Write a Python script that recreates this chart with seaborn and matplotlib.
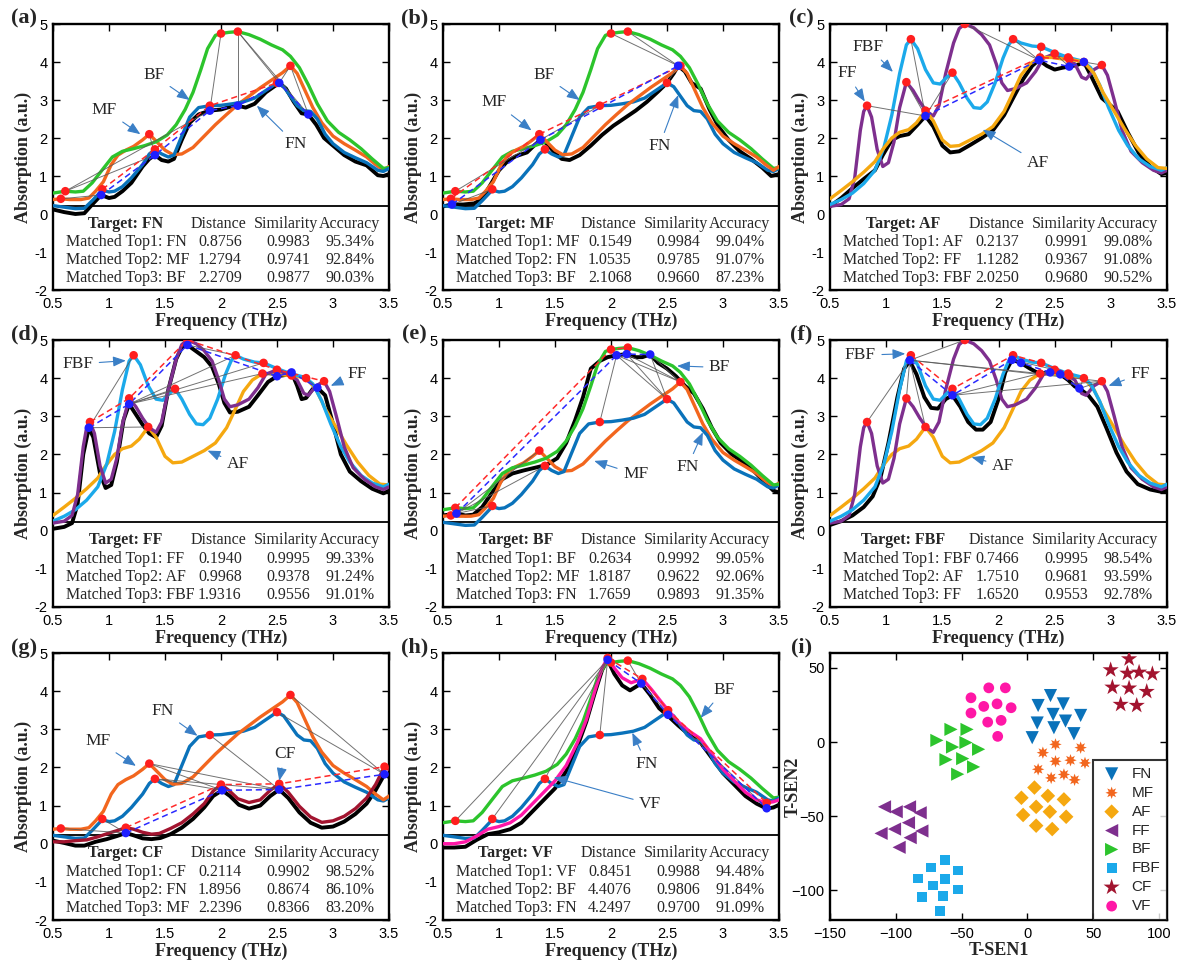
import numpy as np
import pandas as pd
import matplotlib
matplotlib.use("Agg")
import matplotlib.pyplot as plt
import seaborn as sns
from matplotlib.patches import Rectangle
from matplotlib.ticker import FormatStrFormatter

SERIF = "Liberation Serif"
SANS = "Liberation Sans"

# --- reference spectra: frequency (THz) / absorption (a.u.) / picked peaks ---
FN_F = [0.50, 0.60, 0.70, 0.78, 0.85, 0.94, 1.00, 1.05, 1.12, 1.20, 1.30, 1.36, 1.41, 1.47, 1.53, 1.58,
        1.65, 1.72, 1.80, 1.90, 2.00, 2.10, 2.20, 2.30, 2.40, 2.50, 2.56, 2.62, 2.68, 2.74, 2.80, 2.86,
        2.93, 3.00, 3.10, 3.20, 3.30, 3.40, 3.45, 3.50]
FN_A = [0.22, 0.18, 0.14, 0.15, 0.35, 0.63, 0.58, 0.60, 0.72, 0.95, 1.30, 1.58, 1.70, 1.58, 1.50, 1.55,
        2.05, 2.55, 2.80, 2.85, 2.86, 2.90, 2.95, 3.05, 3.25, 3.45, 3.35, 3.10, 2.85, 2.72, 2.70, 2.50,
        2.10, 1.85, 1.62, 1.48, 1.35, 1.15, 1.12, 1.20]
FN_PK = [(0.94, 0.65), (1.41, 1.70), (1.90, 2.85), (2.50, 3.45)]

MF_F = [0.50, 0.57, 0.65, 0.75, 0.82, 0.88, 0.95, 1.02, 1.08, 1.15, 1.22, 1.30, 1.36, 1.42, 1.50, 1.57,
        1.65, 1.75, 1.85, 1.95, 2.05, 2.15, 2.25, 2.35, 2.45, 2.55, 2.62, 2.68, 2.75, 2.82, 2.90, 3.00,
        3.10, 3.20, 3.30, 3.38, 3.45, 3.50]
MF_A = [0.38, 0.40, 0.38, 0.38, 0.42, 0.60, 0.85, 1.30, 1.55, 1.68, 1.78, 1.95, 2.10, 1.92, 1.68, 1.56,
        1.58, 1.75, 2.05, 2.35, 2.62, 2.88, 3.10, 3.32, 3.52, 3.72, 3.90, 3.70, 3.25, 2.80, 2.40, 2.05,
        1.85, 1.68, 1.50, 1.30, 1.15, 1.25]
MF_PK = [(0.57, 0.40), (1.36, 2.10), (2.62, 3.90)]

BF_F = [0.50, 0.61, 0.70, 0.77, 0.85, 0.95, 1.03, 1.12, 1.22, 1.32, 1.42, 1.52, 1.60, 1.68, 1.75, 1.82,
        1.88, 1.95, 2.00, 2.07, 2.15, 2.25, 2.35, 2.45, 2.55, 2.62, 2.70, 2.78, 2.86, 2.95, 3.05, 3.15,
        3.25, 3.35, 3.45, 3.50]
BF_A = [0.55, 0.60, 0.58, 0.60, 0.82, 1.20, 1.50, 1.65, 1.72, 1.80, 1.90, 2.08, 2.35, 2.75, 3.20, 3.80,
        4.35, 4.70, 4.75, 4.78, 4.80, 4.72, 4.60, 4.45, 4.32, 4.15, 3.85, 3.40, 2.90, 2.45, 2.15, 1.95,
        1.72, 1.45, 1.20, 1.22]
BF_PK = [(0.61, 0.60), (2.00, 4.75), (2.15, 4.80)]

AF_F = [0.50, 0.60, 0.70, 0.80, 0.90, 0.97, 1.05, 1.12, 1.20, 1.27, 1.35, 1.42, 1.50, 1.57, 1.65, 1.75,
        1.85, 1.95, 2.05, 2.13, 2.20, 2.28, 2.37, 2.47, 2.57, 2.67, 2.76, 2.85, 2.93, 3.02, 3.12, 3.22,
        3.32, 3.42, 3.50]
AF_A = [0.40, 0.62, 0.85, 1.10, 1.38, 1.70, 2.00, 2.15, 2.22, 2.40, 2.72, 2.45, 1.95, 1.78, 1.80, 1.95,
        2.10, 2.30, 2.70, 3.20, 3.65, 3.95, 4.12, 4.12, 4.08, 4.05, 4.00, 3.70, 3.20, 2.75, 2.25, 1.80,
        1.45, 1.22, 1.20]
AF_PK = [(1.35, 2.72), (2.37, 4.12), (2.63, 4.07), (2.76, 4.00)]

FF_F = [0.50, 0.60, 0.67, 0.72, 0.77, 0.80, 0.83, 0.87, 0.92, 0.97, 1.02, 1.07, 1.12, 1.18, 1.24, 1.30,
        1.36, 1.42, 1.47, 1.53, 1.60, 1.65, 1.70, 1.78, 1.85, 1.92, 1.98, 2.03, 2.08, 2.15, 2.25, 2.33,
        2.40, 2.50, 2.60, 2.68, 2.74, 2.78, 2.85, 2.92, 2.97, 3.03, 3.10, 3.18, 3.28, 3.38, 3.45, 3.50]
FF_A = [0.20, 0.25, 0.40, 0.95, 2.20, 2.70, 2.85, 2.55, 1.70, 1.25, 1.35, 1.90, 2.80, 3.47, 3.25, 2.95,
        2.70, 2.58, 2.85, 3.70, 4.50, 4.88, 5.00, 4.90, 4.72, 4.45, 3.95, 3.45, 3.25, 3.30, 3.45, 3.75,
        4.10, 4.22, 4.10, 3.95, 3.60, 3.55, 3.80, 3.92, 3.65, 3.00, 2.20, 1.65, 1.35, 1.15, 1.08, 1.15]
FF_PK = [(0.83, 2.85), (1.18, 3.47), (1.70, 5.00), (2.50, 4.22), (2.92, 3.92)]

FBF_F = [0.50, 0.60, 0.70, 0.80, 0.90, 0.98, 1.05, 1.12, 1.18, 1.22, 1.28, 1.35, 1.42, 1.48, 1.54, 1.59,
         1.65, 1.72, 1.78, 1.84, 1.90, 1.97, 2.04, 2.09, 2.13, 2.20, 2.30, 2.38, 2.50, 2.62, 2.75, 2.82,
         2.90, 2.98, 3.07, 3.15, 3.25, 3.35, 3.45, 3.50]
FBF_A = [0.25, 0.38, 0.55, 0.80, 1.15, 1.75, 2.60, 3.70, 4.45, 4.60, 4.35, 3.80, 3.45, 3.42, 3.60, 3.72,
         3.45, 3.05, 2.80, 2.78, 2.95, 3.45, 4.10, 4.45, 4.60, 4.50, 4.42, 4.40, 4.25, 4.12, 4.02, 3.85,
         3.40, 2.80, 2.20, 1.80, 1.45, 1.25, 1.15, 1.22]
FBF_PK = [(1.22, 4.60), (1.59, 3.72), (2.13, 4.60), (2.38, 4.40), (2.62, 4.12)]

CF_F = [0.50, 0.60, 0.70, 0.80, 0.90, 1.00, 1.08, 1.15, 1.22, 1.30, 1.38, 1.45, 1.55, 1.65, 1.75, 1.85,
        1.93, 2.00, 2.07, 2.15, 2.25, 2.35, 2.44, 2.52, 2.60, 2.70, 2.80, 2.90, 3.00, 3.10, 3.20, 3.30,
        3.38, 3.46, 3.50]
CF_A = [0.05, 0.05, 0.08, 0.10, 0.18, 0.28, 0.35, 0.42, 0.38, 0.30, 0.25, 0.27, 0.40, 0.55, 0.78, 1.05,
        1.38, 1.55, 1.40, 1.18, 1.08, 1.15, 1.40, 1.57, 1.35, 0.98, 0.70, 0.56, 0.60, 0.72, 0.92, 1.20,
        1.55, 2.02, 1.95]
CF_PK = [(1.15, 0.42), (2.00, 1.55), (2.52, 1.57), (3.46, 2.02)]

VF_F = [0.50, 0.60, 0.70, 0.80, 0.90, 1.00, 1.10, 1.20, 1.30, 1.40, 1.50, 1.60, 1.70, 1.78, 1.85, 1.92,
        1.97, 2.03, 2.10, 2.18, 2.28, 2.36, 2.44, 2.51, 2.60, 2.70, 2.80, 2.90, 3.00, 3.10, 3.20, 3.30,
        3.39, 3.45, 3.50]
VF_A = [0.00, 0.00, 0.05, 0.20, 0.38, 0.45, 0.55, 0.75, 1.05, 1.35, 1.65, 2.05, 2.65, 3.25, 3.95, 4.60,
        4.87, 4.60, 4.35, 4.22, 4.32, 4.05, 3.75, 3.50, 3.20, 2.95, 2.75, 2.35, 1.95, 1.65, 1.35, 1.15,
        1.07, 1.10, 1.15]
VF_PK = [(1.97, 4.87), (2.28, 4.32), (2.51, 3.50), (3.39, 1.07)]

# --- measured (target) spectra, black curves ---
T_FN_F = [0.50, 0.60, 0.70, 0.78, 0.85, 0.93, 1.00, 1.05, 1.12, 1.20, 1.30, 1.36, 1.41, 1.47, 1.53, 1.58,
          1.65, 1.72, 1.80, 1.90, 2.00, 2.08, 2.15, 2.22, 2.30, 2.40, 2.52, 2.58, 2.65, 2.72, 2.78, 2.85,
          2.92, 3.00, 3.10, 3.20, 3.30, 3.40, 3.45, 3.50]
T_FN_A = [0.12, 0.05, 0.00, 0.02, 0.25, 0.50, 0.42, 0.45, 0.60, 0.82, 1.25, 1.45, 1.55, 1.42, 1.38, 1.45,
          1.95, 2.40, 2.62, 2.72, 2.75, 2.82, 2.85, 2.80, 2.90, 3.20, 3.45, 3.30, 2.95, 2.65, 2.62, 2.35,
          2.00, 1.80, 1.55, 1.38, 1.28, 1.02, 1.00, 1.05]
T_FN_PK = [(0.93, 0.50), (1.41, 1.55), (1.90, 2.72), (2.15, 2.85), (2.52, 3.45), (2.78, 2.62)]

T_MF_F = [0.50, 0.58, 0.68, 0.78, 0.85, 0.92, 1.00, 1.08, 1.15, 1.25, 1.32, 1.37, 1.43, 1.50, 1.56, 1.63,
          1.72, 1.82, 1.92, 2.02, 2.12, 2.22, 2.32, 2.42, 2.50, 2.56, 2.60, 2.66, 2.72, 2.80, 2.88, 2.96,
          3.05, 3.15, 3.25, 3.35, 3.43, 3.50]
T_MF_A = [0.20, 0.25, 0.25, 0.28, 0.40, 0.75, 1.15, 1.40, 1.52, 1.62, 1.82, 1.95, 1.85, 1.60, 1.45, 1.42,
          1.55, 1.80, 2.08, 2.32, 2.52, 2.72, 2.95, 3.22, 3.45, 3.70, 3.90, 3.75, 3.45, 3.30, 2.75, 2.30,
          1.95, 1.65, 1.45, 1.22, 1.00, 1.05]
T_MF_PK = [(0.58, 0.25), (1.37, 1.95), (2.60, 3.90)]

T_AF_F = [0.50, 0.60, 0.70, 0.80, 0.90, 0.97, 1.05, 1.12, 1.20, 1.28, 1.35, 1.42, 1.50, 1.57, 1.65, 1.75,
          1.85, 1.95, 2.05, 2.13, 2.22, 2.30, 2.36, 2.43, 2.50, 2.57, 2.63, 2.70, 2.76, 2.83, 2.92, 3.00,
          3.06, 3.15, 3.25, 3.35, 3.45, 3.50]
T_AF_A = [0.20, 0.42, 0.68, 0.92, 1.15, 1.55, 1.95, 2.05, 2.10, 2.35, 2.58, 2.30, 1.80, 1.62, 1.65, 1.82,
          2.00, 2.20, 2.60, 3.05, 3.55, 3.90, 4.05, 3.90, 3.80, 3.85, 3.88, 3.92, 4.00, 3.60, 3.05, 2.85,
          2.70, 2.15, 1.60, 1.25, 1.05, 1.08]
T_AF_PK = [(1.35, 2.58), (2.36, 4.05), (2.63, 3.88), (2.76, 4.00)]

T_FF_F = [0.50, 0.60, 0.67, 0.72, 0.77, 0.82, 0.86, 0.92, 0.97, 1.02, 1.07, 1.13, 1.18, 1.24, 1.30, 1.36,
          1.42, 1.47, 1.53, 1.60, 1.65, 1.70, 1.78, 1.85, 1.92, 1.98, 2.03, 2.08, 2.15, 2.25, 2.33, 2.42,
          2.50, 2.57, 2.63, 2.68, 2.72, 2.76, 2.82, 2.86, 2.93, 3.00, 3.07, 3.15, 3.25, 3.35, 3.45, 3.50]
T_FF_A = [0.05, 0.10, 0.20, 0.70, 2.00, 2.70, 2.45, 1.50, 1.12, 1.20, 1.80, 2.90, 3.32, 3.05, 2.78, 2.55,
          2.45, 2.75, 3.70, 4.50, 4.80, 4.87, 4.70, 4.55, 4.30, 3.85, 3.35, 3.10, 3.12, 3.25, 3.55, 3.90,
          4.05, 4.08, 4.15, 3.80, 3.45, 3.48, 3.72, 3.75, 3.55, 2.80, 2.00, 1.55, 1.30, 1.10, 0.98, 1.05]
T_FF_PK = [(0.82, 2.70), (1.18, 3.32), (1.70, 4.87), (2.50, 4.05), (2.63, 4.15), (2.86, 3.75)]

T_BF_F = [0.50, 0.62, 0.70, 0.77, 0.85, 0.95, 1.03, 1.12, 1.22, 1.32, 1.42, 1.52, 1.60, 1.68, 1.75, 1.82,
          1.90, 1.97, 2.05, 2.14, 2.22, 2.28, 2.35, 2.42, 2.50, 2.58, 2.66, 2.74, 2.82, 2.90, 2.98, 3.08,
          3.18, 3.28, 3.38, 3.45, 3.50]
T_BF_A = [0.40, 0.45, 0.40, 0.42, 0.62, 1.05, 1.35, 1.50, 1.58, 1.65, 1.72, 1.90, 2.30, 2.90, 3.50, 4.25,
          4.45, 4.55, 4.60, 4.63, 4.55, 4.55, 4.62, 4.40, 4.25, 4.05, 3.80, 3.60, 3.20, 2.70, 2.30, 2.00,
          1.80, 1.55, 1.25, 1.05, 1.00]
T_BF_PK = [(0.62, 0.45), (2.05, 4.60), (2.14, 4.63), (2.35, 4.62)]

T_FBF_F = [0.50, 0.60, 0.70, 0.80, 0.88, 0.95, 1.02, 1.10, 1.16, 1.21, 1.27, 1.34, 1.40, 1.46, 1.53, 1.59,
           1.66, 1.73, 1.80, 1.86, 1.93, 2.00, 2.06, 2.12, 2.20, 2.28, 2.36, 2.46, 2.55, 2.62, 2.68, 2.72,
           2.80, 2.88, 2.96, 3.05, 3.14, 3.24, 3.35, 3.45, 3.50]
T_FBF_A = [0.15, 0.25, 0.40, 0.62, 0.90, 1.40, 2.30, 3.50, 4.25, 4.45, 4.10, 3.50, 3.22, 3.20, 3.45, 3.55,
           3.25, 2.85, 2.65, 2.65, 2.85, 3.45, 4.15, 4.48, 4.40, 4.25, 4.12, 4.15, 4.10, 3.95, 3.78, 3.73,
           3.55, 3.25, 2.70, 2.05, 1.55, 1.22, 1.08, 1.02, 1.05]
T_FBF_PK = [(1.21, 4.47), (1.59, 3.55), (2.12, 4.48), (2.20, 4.40), (2.46, 4.15), (2.55, 4.10), (2.72, 3.73)]

T_CF_F = [0.50, 0.60, 0.70, 0.78, 0.88, 0.98, 1.07, 1.15, 1.22, 1.30, 1.38, 1.46, 1.55, 1.65, 1.75, 1.85,
          1.93, 2.01, 2.08, 2.16, 2.25, 2.35, 2.44, 2.52, 2.60, 2.70, 2.80, 2.90, 3.00, 3.10, 3.20, 3.30,
          3.38, 3.46, 3.50]
T_CF_A = [0.08, 0.02, -0.05, -0.05, 0.05, 0.12, 0.20, 0.28, 0.22, 0.14, 0.12, 0.15, 0.25, 0.42, 0.65, 0.95,
          1.25, 1.40, 1.25, 1.02, 0.92, 1.00, 1.25, 1.42, 1.20, 0.82, 0.55, 0.42, 0.45, 0.58, 0.78, 1.05,
          1.40, 1.82, 1.75]
T_CF_PK = [(1.15, 0.28), (2.01, 1.40), (2.52, 1.42), (3.46, 1.82)]

T_VF_F = [0.50, 0.60, 0.70, 0.80, 0.90, 1.00, 1.10, 1.20, 1.30, 1.40, 1.50, 1.60, 1.70, 1.78, 1.85, 1.92,
          1.97, 2.03, 2.10, 2.17, 2.27, 2.35, 2.43, 2.51, 2.60, 2.70, 2.80, 2.90, 3.00, 3.10, 3.20, 3.30,
          3.39, 3.45, 3.50]
T_VF_A = [-0.10, -0.10, -0.08, 0.10, 0.25, 0.30, 0.38, 0.55, 0.85, 1.15, 1.45, 1.90, 2.55, 3.20, 3.90, 4.55,
          4.82, 4.45, 4.15, 4.02, 4.20, 3.90, 3.55, 3.35, 3.10, 2.85, 2.65, 2.25, 1.85, 1.55, 1.25, 1.05,
          0.92, 0.95, 1.02]
T_VF_PK = [(1.97, 4.82), (2.27, 4.20), (2.51, 3.38), (3.39, 0.93)]

# --- matching tables ---
TAB_A = [("FN", "0.8756", "0.9983", "95.34%"), ("MF", "1.2794", "0.9741", "92.84%"), ("BF", "2.2709", "0.9877", "90.03%")]
TAB_B = [("MF", "0.1549", "0.9984", "99.04%"), ("FN", "1.0535", "0.9785", "91.07%"), ("BF", "2.1068", "0.9660", "87.23%")]
TAB_C = [("AF", "0.2137", "0.9991", "99.08%"), ("FF", "1.1282", "0.9367", "91.08%"), ("FBF", "2.0250", "0.9680", "90.52%")]
TAB_D = [("FF", "0.1940", "0.9995", "99.33%"), ("AF", "0.9968", "0.9378", "91.24%"), ("FBF", "1.9316", "0.9556", "91.01%")]
TAB_E = [("BF", "0.2634", "0.9992", "99.05%"), ("MF", "1.8187", "0.9622", "92.06%"), ("FN", "1.7659", "0.9893", "91.35%")]
TAB_F = [("FBF", "0.7466", "0.9995", "98.54%"), ("AF", "1.7510", "0.9681", "93.59%"), ("FF", "1.6520", "0.9553", "92.78%")]
TAB_G = [("CF", "0.2114", "0.9902", "98.52%"), ("FN", "1.8956", "0.8674", "86.10%"), ("MF", "2.2396", "0.8366", "83.20%")]
TAB_H = [("VF", "0.8451", "0.9988", "94.48%"), ("BF", "4.4076", "0.9806", "91.84%"), ("FN", "4.2497", "0.9700", "91.09%")]

# peak matching: (target peak index, reference class, reference peak index)
LINKS_A = [(0, "MF", 0), (0, "FN", 0), (1, "BF", 0), (2, "BF", 0), (1, "MF", 1), (2, "BF", 1), (3, "BF", 2),
           (4, "BF", 2), (4, "MF", 2), (5, "MF", 2), (5, "BF", 2)]
LINKS_B = [(0, "BF", 0), (0, "FN", 0), (1, "BF", 0), (1, "FN", 1), (1, "FN", 2), (2, "BF", 1), (2, "BF", 2),
           (2, "FN", 3)]
LINKS_C = [(0, "FF", 0), (0, "FF", 1), (0, "FBF", 0), (0, "FBF", 1), (1, "FF", 2), (1, "FBF", 2),
           (1, "FBF", 3), (2, "FBF", 4), (2, "FF", 3), (3, "FF", 4)]
LINKS_D = [(0, "FBF", 0), (0, "AF", 0), (1, "FBF", 1), (1, "FBF", 2), (1, "FBF", 3), (1, "AF", 1),
           (2, "FBF", 2), (3, "AF", 1), (4, "FBF", 4), (5, "AF", 3)]
LINKS_E = [(0, "MF", 0), (0, "FN", 0), (0, "MF", 1), (0, "FN", 1), (1, "FN", 2), (1, "FN", 3), (1, "MF", 2),
           (2, "FN", 3), (2, "MF", 2), (3, "FN", 3), (3, "MF", 2)]
LINKS_F = [(0, "FF", 0), (0, "FF", 1), (0, "AF", 0), (0, "FF", 2), (0, "AF", 1), (0, "FF", 4),
           (1, "FF", 3), (1, "FF", 4), (2, "FF", 3), (4, "AF", 1), (6, "FF", 4), (6, "AF", 3)]
LINKS_G = [(0, "MF", 0), (0, "FN", 0), (1, "MF", 1), (1, "FN", 1), (2, "MF", 1), (2, "FN", 1),
           (2, "FN", 2), (3, "FN", 3), (3, "MF", 2)]
LINKS_H = [(0, "BF", 0), (0, "FN", 0), (0, "FN", 1), (0, "FN", 2), (0, "BF", 1), (1, "BF", 2),
           (1, "FN", 3), (3, "FN", 3)]

# --- t-SNE embedding ---
TSNE_CLASSES = ["FN", "MF", "AF", "FF", "BF", "FBF", "CF", "VF"]
TS_FN_X = [17.5, 27.2, 8.1, 19.5, 40.4, 7.4, 28.9, 20.1, 35.3, 3.6]
TS_FN_Y = [31.3, 25.7, 24.6, 18.6, 17.9, 12.8, 14.1, 9.6, 5.6, 2.9]
TS_MF_X = [21.3, 11.7, 40.4, 21.3, 32.7, 43.7, 8.1, 27.7, 18.0, 35.8]
TS_MF_Y = [-1.6, -7.2, -3.8, -13.0, -12.3, -14.1, -18.4, -21.9, -24.2, -25.5]
TS_AF_X = [5.3, -4.6, 15.5, 27.7, 6.6, -3.3, 17.0, 29.4, 6.6, 18.8]
TS_AF_Y = [-30.7, -37.6, -36.3, -38.7, -43.7, -49.2, -47.0, -50.4, -56.4, -58.7]
TS_FF_X = [-108.6, -99.7, -89.6, -81.5, -90.4, -101.0, -111.2, -80.2, -89.1, -97.5]
TS_FF_Y = [-43.7, -47.0, -43.7, -47.7, -54.4, -58.7, -61.6, -60.0, -64.5, -71.0]
TS_BF_X = [-68.8, -58.1, -45.9, -56.9, -46.7, -37.1, -61.9, -49.2, -40.9, -53.0]
TS_BF_Y = [1.1, 8.5, 8.5, -3.4, -0.4, -4.9, -11.9, -11.2, -16.8, -21.7]
TS_FBF_X = [-62.9, -73.4, -53.0, -83.2, -62.9, -71.8, -53.0, -80.2, -64.2, -66.2]
TS_FBF_Y = [-79.5, -84.6, -86.6, -92.0, -92.5, -96.7, -99.4, -104.5, -103.6, -113.7]
TS_CF_X = [77.2, 63.2, 75.9, 84.8, 94.9, 64.5, 77.2, 90.6, 70.8, 83.0]
TS_CF_Y = [56.0, 48.6, 46.3, 47.0, 45.9, 36.9, 36.3, 34.0, 25.3, 24.6]
TS_VF_X = [-29.4, -16.8, -42.9, -33.2, -23.1, -12.4, -42.9, -30.2, -20.0, -22.6]
TS_VF_Y = [36.5, 36.5, 29.8, 24.0, 25.7, 23.1, 19.5, 13.4, 14.6, 3.8]

# --- styles ---
COLORS = {"FN": "#0A72BA", "MF": "#F2661E", "AF": "#F5A810", "FF": "#7E2F8E", "BF": "#2CC42C",
          "FBF": "#1BA9EA", "CF": "#A2142F", "VF": "#FF17A6"}
MARKERS = {"FN": ("v", 90), "MF": ((8, 1, 0), 80), "AF": ("D", 55), "FF": ("<", 90), "BF": (">", 90),
           "FBF": ("s", 50), "CF": ("*", 150), "VF": ("o", 60)}
ARROW_C = "#3A7FC6"

REF = {"FN": (FN_F, FN_A, FN_PK), "MF": (MF_F, MF_A, MF_PK), "AF": (AF_F, AF_A, AF_PK),
       "FF": (FF_F, FF_A, FF_PK), "BF": (BF_F, BF_A, BF_PK), "FBF": (FBF_F, FBF_A, FBF_PK),
       "CF": (CF_F, CF_A, CF_PK), "VF": (VF_F, VF_A, VF_PK)}

# label text position -> arrow tip (layout)
NOTES = {
    "a": [("BF", (1.40, 3.65), (1.72, 3.00)), ("MF", (0.96, 2.75), (1.28, 2.10)), ("FN", (2.67, 1.83), (2.32, 2.85))],
    "b": [("BF", (1.40, 3.65), (1.72, 3.00)), ("MF", (0.96, 2.95), (1.29, 2.20)), ("FN", (2.43, 1.78), (2.60, 3.13))],
    "c": [("FBF", (0.84, 4.40), (1.06, 3.74)), ("FF", (0.65, 3.70), (0.81, 2.96)), ("AF", (2.35, 1.35), (1.86, 2.22))],
    "d": [("FBF", (0.72, 4.37), (1.15, 4.46)), ("FF", (3.22, 4.11), (2.98, 3.80)), ("AF", (2.15, 1.75), (1.88, 2.10))],
    "e": [("BF", (2.97, 4.28), (2.59, 4.32)), ("MF", (2.22, 1.48), (1.85, 1.83)), ("FN", (2.68, 1.66), (2.82, 2.58))],
    "f": [("FBF", (0.77, 4.60), (1.17, 4.64)), ("FF", (3.26, 4.10), (2.98, 3.80)), ("AF", (2.04, 1.70), (1.76, 1.93))],
    "g": [("MF", (0.90, 2.70), (1.24, 2.04)), ("FN", (1.48, 3.48), (1.79, 2.83)), ("CF", (2.57, 2.35), (2.52, 1.65))],
    "h": [("BF", (3.01, 4.04), (2.80, 3.30)), ("FN", (2.32, 2.09), (2.19, 2.91)), ("VF", (2.35, 1.04), (1.49, 1.74))],
}

PANELS = [
    ("a", "FN", ["MF", "BF"], T_FN_F, T_FN_A, T_FN_PK, TAB_A, LINKS_A),
    ("b", "MF", ["FN", "BF"], T_MF_F, T_MF_A, T_MF_PK, TAB_B, LINKS_B),
    ("c", "AF", ["FF", "FBF"], T_AF_F, T_AF_A, T_AF_PK, TAB_C, LINKS_C),
    ("d", "FF", ["AF", "FBF"], T_FF_F, T_FF_A, T_FF_PK, TAB_D, LINKS_D),
    ("e", "BF", ["MF", "FN"], T_BF_F, T_BF_A, T_BF_PK, TAB_E, LINKS_E),
    ("f", "FBF", ["AF", "FF"], T_FBF_F, T_FBF_A, T_FBF_PK, TAB_F, LINKS_F),
    ("g", "CF", ["FN", "MF"], T_CF_F, T_CF_A, T_CF_PK, TAB_G, LINKS_G),
    ("h", "VF", ["BF", "FN"], T_VF_F, T_VF_A, T_VF_PK, TAB_H, LINKS_H),
]

sns.set_style("ticks")
plt.rcParams["font.family"] = [SANS, "DejaVu Sans"]

fig = plt.figure(figsize=(11.78, 9.64), dpi=100)
COL_X = [(53, 389), (443, 779), (830, 1167)]
ROW_Y = [(24, 290), (340, 607), (653, 920)]


def make_axes(r, c):
    x0, x1 = COL_X[c]
    y0, y1 = ROW_Y[r]
    return fig.add_axes([x0 / 1178, 1 - y1 / 964, (x1 - x0) / 1178, (y1 - y0) / 964])


def style_axes(ax):
    ax.tick_params(direction="in", top=True, right=True, length=5, width=1.0,
                   labelsize=10.5, colors="k")
    ax.tick_params(axis="x", pad=5)
    ax.tick_params(axis="y", pad=4)
    for sp in ax.spines.values():
        sp.set_linewidth(1.7)
        sp.set_color("k")


def draw_spectrum(ax, key, target, others, tf, ta, tpk, table, links):
    ax.add_patch(Rectangle((0.5, -2), 3.0, 2.22, facecolor="white", edgecolor="none", zorder=1))
    ax.axhline(0.22, color="k", lw=1.3, zorder=1.5)
    sns.lineplot(x=tf, y=ta, color="k", linewidth=2.8, ax=ax, zorder=3, estimator=None, sort=False)
    for name in others + [target]:
        f, a, _ = REF[name]
        sns.lineplot(x=f, y=a, color=COLORS[name], linewidth=2.4, ax=ax, zorder=3.2,
                     estimator=None, sort=False)
    for bi, name, ri in links:
        bx, by = tpk[bi]
        rx, ry = REF[name][2][ri]
        ax.plot([bx, rx], [by, ry], color="0.35", lw=0.7, alpha=0.85, zorder=4)
    rp = REF[target][2]
    ax.plot([p[0] for p in rp], [p[1] for p in rp], color="#FF2A2A", lw=1.1,
            ls=(0, (4, 2.5)), zorder=5)
    ax.plot([p[0] for p in tpk], [p[1] for p in tpk], color="#2A2AFF", lw=1.1,
            ls=(0, (4, 2.5)), zorder=5)
    reds = [p for name in [target] + others for p in REF[name][2]]
    sns.scatterplot(x=[p[0] for p in reds], y=[p[1] for p in reds], color="#FF1E1E", s=38,
                    edgecolor="none", ax=ax, zorder=6)
    sns.scatterplot(x=[p[0] for p in tpk], y=[p[1] for p in tpk], color="#1E1EFF", s=38,
                    edgecolor="none", ax=ax, zorder=7)

    for txt, tpos, tip in NOTES[key]:
        ax.annotate(txt, xy=tip, xytext=tpos, ha="center", va="center", fontsize=12.5,
                    family=SERIF, zorder=9,
                    arrowprops=dict(arrowstyle="-|>,head_length=0.55,head_width=0.22",
                                    color=ARROW_C, lw=0.8, shrinkA=2, shrinkB=0,
                                    mutation_scale=14))

    ax.text(1.15, -0.25, f"Target: {target}", family=SERIF, weight="bold", fontsize=11.5,
            ha="center", va="center", zorder=10)
    for cx, head in zip([1.98, 2.58, 3.15], ["Distance", "Similarity", "Accuracy"]):
        ax.text(cx, -0.25, head, family=SERIF, fontsize=11.5, ha="center", va="center", zorder=10)
    for i, (name, d, s, acc) in enumerate(table):
        yy = -0.73 - 0.48 * i
        ax.text(0.62, yy, f"Matched Top{i + 1}: {name}", family=SERIF, fontsize=11.5,
                ha="left", va="center", zorder=10)
        for cx, v in zip([1.99, 2.6, 3.15], [d, s, acc]):
            ax.text(cx, yy, v, family=SERIF, fontsize=11.5, ha="center", va="center", zorder=10)

    ax.set_xlim(0.5, 3.5)
    ax.set_ylim(-2, 5)
    ax.set_xticks([0.5, 1, 1.5, 2, 2.5, 3, 3.5])
    ax.set_yticks([-2, -1, 0, 1, 2, 3, 4, 5])
    ax.xaxis.set_major_formatter(FormatStrFormatter("%g"))
    ax.yaxis.set_major_formatter(FormatStrFormatter("%g"))
    ax.set_xlabel("Frequency (THz)", family=SERIF, weight="bold", fontsize=13, labelpad=1)
    ax.set_ylabel("Absorption (a.u.)", family=SERIF, weight="bold", fontsize=13, labelpad=2)
    style_axes(ax)
    ax.text(-0.085, 1.02, f"({key})", transform=ax.transAxes, family=SERIF, weight="bold",
            fontsize=16, ha="center", va="center")


for idx, panel in enumerate(PANELS):
    ax = make_axes(idx // 3, idx % 3)
    draw_spectrum(ax, *panel)

# --- (i) t-SNE ---
ax = make_axes(2, 2)
TS = {"FN": (TS_FN_X, TS_FN_Y), "MF": (TS_MF_X, TS_MF_Y), "AF": (TS_AF_X, TS_AF_Y),
      "FF": (TS_FF_X, TS_FF_Y), "BF": (TS_BF_X, TS_BF_Y), "FBF": (TS_FBF_X, TS_FBF_Y),
      "CF": (TS_CF_X, TS_CF_Y), "VF": (TS_VF_X, TS_VF_Y)}
for name in TSNE_CLASSES:
    xs, ys = TS[name]
    mk, sz = MARKERS[name]
    sns.scatterplot(x=xs, y=ys, marker=mk, s=sz, color=COLORS[name], edgecolor="none",
                    label=name, ax=ax, zorder=3)
ax.set_xlim(-150, 106)
ax.set_ylim(-120, 60)
ax.set_xticks([-150, -100, -50, 0, 50, 100])
ax.set_yticks([-100, -50, 0, 50])
ax.set_xlabel("T-SEN1", family=SERIF, weight="bold", fontsize=13, labelpad=1)
ax.set_ylabel("T-SEN2", family=SERIF, weight="bold", fontsize=13)
style_axes(ax)
ax.yaxis.set_label_coords(-0.085, 0.5)
leg = ax.legend(loc="lower right", frameon=True, fancybox=False, edgecolor="k",
                borderaxespad=0, fontsize=11, labelspacing=0.32, handletextpad=0.5,
                borderpad=0.45, handlelength=1.6)
leg.get_frame().set_linewidth(1.5)
ax.text(-0.085, 1.02, "(i)", transform=ax.transAxes, family=SERIF, weight="bold",
        fontsize=16, ha="center", va="center")

fig.savefig("out.png", dpi=100)
